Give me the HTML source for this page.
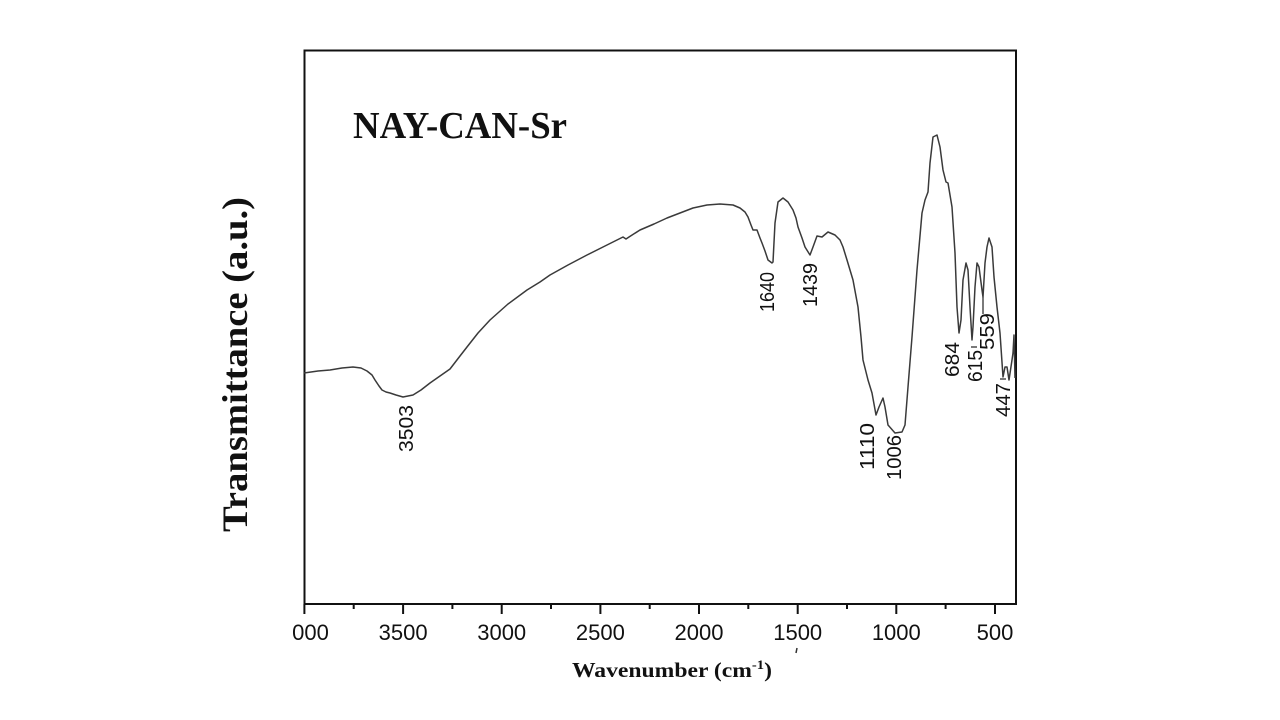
<!DOCTYPE html>
<html>
<head>
<meta charset="utf-8">
<style>
html,body{margin:0;padding:0;background:#fff;}
svg{display:block;}
</style>
</head>
<body>
<svg width="1280" height="720" viewBox="0 0 1280 720" xmlns="http://www.w3.org/2000/svg">
<defs>
<clipPath id="lc"><rect x="293" y="600" width="800" height="60"/></clipPath>
</defs>
<rect width="1280" height="720" fill="#fff"/>

<!-- frame -->
<rect x="304.5" y="50.5" width="711.5" height="553.5" fill="none" stroke="#111" stroke-width="2"/>

<!-- ticks -->
<g stroke="#111" stroke-width="2">
<line x1="304.4" y1="604" x2="304.4" y2="614"/>
<line x1="353.7" y1="604" x2="353.7" y2="609"/>
<line x1="403.1" y1="604" x2="403.1" y2="614"/>
<line x1="452.4" y1="604" x2="452.4" y2="609"/>
<line x1="501.7" y1="604" x2="501.7" y2="614"/>
<line x1="551.0" y1="604" x2="551.0" y2="609"/>
<line x1="600.4" y1="604" x2="600.4" y2="614"/>
<line x1="649.7" y1="604" x2="649.7" y2="609"/>
<line x1="699.0" y1="604" x2="699.0" y2="614"/>
<line x1="748.3" y1="604" x2="748.3" y2="609"/>
<line x1="797.7" y1="604" x2="797.7" y2="614"/>
<line x1="847.0" y1="604" x2="847.0" y2="609"/>
<line x1="896.3" y1="604" x2="896.3" y2="614"/>
<line x1="945.6" y1="604" x2="945.6" y2="609"/>
<line x1="995.0" y1="604" x2="995.0" y2="614"/>
</g>

<!-- tick labels -->
<g font-family="'Liberation Sans', Arial, sans-serif" font-size="22" fill="#111" text-anchor="middle">
<text x="304.4" y="640" clip-path="url(#lc)">4000</text>
<text x="403.1" y="640">3500</text>
<text x="501.7" y="640">3000</text>
<text x="600.4" y="640">2500</text>
<text x="699.0" y="640">2000</text>
<text x="797.7" y="640">1500</text>
<text x="896.3" y="640">1000</text>
<text x="995.0" y="640">500</text>
</g>
<line x1="797" y1="648" x2="796" y2="653" stroke="#333" stroke-width="1.5"/>

<!-- axis titles -->
<text x="572" y="677" font-family="'Liberation Serif', 'Times New Roman', serif" font-weight="bold" font-size="21" fill="#111" textLength="200" lengthAdjust="spacingAndGlyphs">Wavenumber (cm<tspan font-size="13" dy="-8">-1</tspan><tspan dy="8">)</tspan></text>
<text transform="translate(247,364.5) rotate(-90)" x="0" y="0" text-anchor="middle" font-family="'Liberation Serif', 'Times New Roman', serif" font-weight="bold" font-size="36" fill="#111" textLength="335" lengthAdjust="spacingAndGlyphs">Transmittance (a.u.)</text>

<!-- title -->
<text x="353" y="138" font-family="'Liberation Serif', 'Times New Roman', serif" font-weight="bold" font-size="38" fill="#111" textLength="214" lengthAdjust="spacingAndGlyphs">NAY-CAN-Sr</text>

<!-- spectrum -->
<polyline fill="none" stroke="#3a3a3a" stroke-width="1.5" stroke-linejoin="round" points="
304,373 318,371 330,370 342,368 353,367 361,368 367,371 372,375 375,380 379,386 382,390 386,392 390,393 396,395 403,397 408,396 413,395 421,390 430,383 440,376 450,369 460,356 467,347 478,333 490,320 508,304 527,290 540,282 550,275 568,265 587,255 605,246 623,237 626,239 629,237 640,230 654,224 667,218 680,213 693,208 707,205 720,204 733,205 740,208 745,212 748,217 751,225 753,230 757,230 760,238 762,243 765,251 768,260 772,263 773,262 775,223 778,202 783,198 788,202 793,210 796,218 798,227 802,238 805,247 810,255 813,247 817,236 822,237 828,232 835,235 840,240 843,247 847,260 853,280 858,307 861,337 863,360 868,380 872,393 876,415 879,407 883,398 885,407 888,425 895,433 902,432 905,425 908,387 912,337 917,270 922,213 925,200 928,192 930,163 933,137 937,135 940,147 943,170 946,182 948,183 952,207 955,253 957,307 959,333 961,320 963,280 966,263 968,270 970,307 972,340 973,327 975,287 977,263 979,267 982,290 983,297 985,263 987,247 989,238 992,247 994,277 997,307 1000,333 1003,377 1005,367 1007,367 1009,380 1012,360 1013,353 1014,335 1015,378"/>

<!-- leader lines -->
<g stroke="#333" stroke-width="1.3">
<line x1="983" y1="297" x2="983" y2="314"/>
<line x1="971" y1="347" x2="977" y2="347"/>
<line x1="1000" y1="379" x2="1006" y2="379"/>
</g>

<!-- peak labels -->
<g font-family="'Liberation Sans', Arial, sans-serif" font-size="20" fill="#111" text-anchor="middle">
<text transform="translate(406,428.5) rotate(-90)" x="0" y="7" textLength="47" lengthAdjust="spacingAndGlyphs">3503</text>
<text transform="translate(767,292) rotate(-90)" x="0" y="7" textLength="40" lengthAdjust="spacingAndGlyphs">1640</text>
<text transform="translate(810,285) rotate(-90)" x="0" y="7" textLength="44" lengthAdjust="spacingAndGlyphs">1439</text>
<text transform="translate(867,446.5) rotate(-90)" x="0" y="7" textLength="47" lengthAdjust="spacingAndGlyphs">1110</text>
<text transform="translate(894,457.5) rotate(-90)" x="0" y="7" textLength="45" lengthAdjust="spacingAndGlyphs">1006</text>
<text transform="translate(952,359.5) rotate(-90)" x="0" y="7" textLength="35" lengthAdjust="spacingAndGlyphs">684</text>
<text transform="translate(975,366) rotate(-90)" x="0" y="7" textLength="32" lengthAdjust="spacingAndGlyphs">615</text>
<text transform="translate(987,331.5) rotate(-90)" x="0" y="7" textLength="37" lengthAdjust="spacingAndGlyphs">559</text>
<text transform="translate(1003,400) rotate(-90)" x="0" y="7" textLength="34" lengthAdjust="spacingAndGlyphs">447</text>
</g>
</svg>
</body>
</html>
